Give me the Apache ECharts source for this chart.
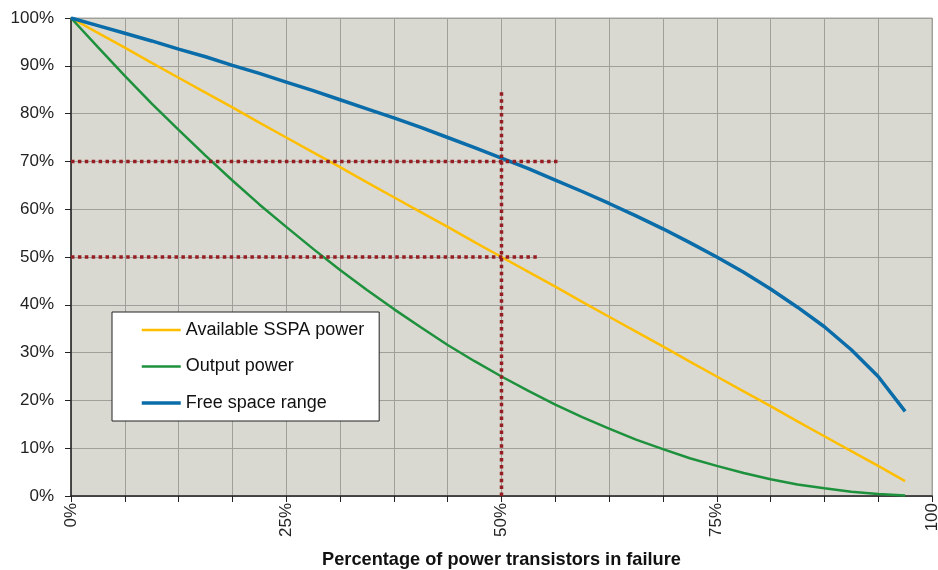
<!DOCTYPE html>
<html>
<head>
<meta charset="utf-8">
<script src="https://cdn.jsdelivr.net/npm/echarts@6/dist/echarts.min.js"></script>
<style>
html,body{margin:0;padding:0;background:#fff;}
#chart{width:938px;height:570px;}
</style>
</head>
<body>
<div id="chart"></div>
<script>
// Percentage of power transistors in failure (x positions)
var failurePct = [0, 3.125, 6.25, 9.375, 12.5, 15.625, 18.75, 21.875, 25, 28.125, 31.25, 34.375, 37.5, 40.625, 43.75, 46.875,
  50, 53.125, 56.25, 59.375, 62.5, 65.625, 68.75, 71.875, 75, 78.125, 81.25, 84.375, 87.5, 90.625, 93.75, 96.875];
var availableSSPA = [100, 96.9, 93.8, 90.6, 87.5, 84.4, 81.3, 78.1, 75.0, 71.9, 68.8, 65.6, 62.5, 59.4, 56.3, 53.1,
  50.0, 46.9, 43.8, 40.6, 37.5, 34.4, 31.3, 28.1, 25.0, 21.9, 18.8, 15.6, 12.5, 9.4, 6.3, 3.1];
var outputPower = [100, 93.9, 87.9, 82.1, 76.6, 71.2, 66.0, 61.0, 56.3, 51.7, 47.3, 43.1, 39.1, 35.3, 31.6, 28.2,
  25.0, 22.0, 19.1, 16.5, 14.1, 11.8, 9.8, 7.9, 6.3, 4.8, 3.5, 2.4, 1.6, 0.9, 0.4, 0.1];
var freeSpaceRange = [100, 98.4, 96.8, 95.2, 93.5, 91.9, 90.1, 88.4, 86.6, 84.8, 82.9, 81.0, 79.1, 77.1, 75.0, 72.9,
  70.7, 68.5, 66.1, 63.7, 61.2, 58.6, 55.9, 53.0, 50.0, 46.8, 43.3, 39.5, 35.4, 30.6, 25.0, 17.7];
// dotted reference lines [x, y]
var ref70 = [[0, 70], [56.5, 70]];
var ref50 = [[0, 50], [54.1, 50]];
var refVert = [[50, 0], [50, 84.6]];
var seriesNames = ['Available SSPA power', 'Output power', 'Free space range'];
var xTickLabels = {0: '0%', 25: '25%', 50: '50%', 75: '75%', 100: '100'};

function pairs(xs, ys) { return xs.map(function (x, i) { return [x, ys[i]]; }); }

var chart = echarts.init(document.getElementById('chart'), null, {renderer: 'canvas'});
var refStyle = {color: '#961E23', width: 3.5, type: [3.5, 3.4], cap: 'butt'};
var FONT = 'Liberation Sans';
var widths = [2.5, 2.5, 3.5];
chart.setOption({
  animation: false,
  backgroundColor: '#ffffff',
  grid: {left: 71, right: 6, top: 18, bottom: 74, outerBoundsMode: 'none', containLabel: false,
    show: true, backgroundColor: '#D9D9D1', borderColor: '#A6A6A0', borderWidth: 1},
  legend: {
    data: seriesNames.map(function (n, i) { return {name: n, lineStyle: {width: widths[i]}}; }),
    orient: 'vertical',
    left: 112, top: 312,
    backgroundColor: '#ffffff',
    borderColor: '#222222', borderWidth: 1,
    padding: [8, 15, 8, 28],
    itemWidth: 39, itemHeight: 14, itemGap: 16.5,
    itemStyle: {opacity: 0},
    textStyle: {fontFamily: FONT, fontSize: 18, color: '#111', lineHeight: 20},
    selectedMode: false
  },
  xAxis: {
    type: 'value', min: 0, max: 100, interval: 6.25,
    name: 'Percentage of power transistors in failure',
    nameLocation: 'middle', nameGap: 55,
    nameTextStyle: {fontFamily: FONT, fontSize: 18.2, fontWeight: 'bold', color: '#111'},
    axisLine: {show: true, lineStyle: {color: '#222', width: 1.5}},
    axisTick: {show: true, length: 6, lineStyle: {color: '#222'}},
    splitLine: {show: true, lineStyle: {color: '#A0A09A', width: 1}},
    axisLabel: {
      rotate: 90, margin: 7, fontFamily: FONT, fontSize: 17, color: '#222',
      showMinLabel: true, showMaxLabel: true, hideOverlap: false,
      formatter: function (v) { var k = Math.round(v * 1000) / 1000; return xTickLabels[k] !== undefined ? xTickLabels[k] : ''; }
    }
  },
  yAxis: {
    type: 'value', min: 0, max: 100, interval: 10,
    axisLine: {show: true, lineStyle: {color: '#222', width: 1.5}},
    axisTick: {show: true, length: 6, lineStyle: {color: '#222'}},
    splitLine: {show: true, lineStyle: {color: '#A0A09A', width: 1}},
    axisLabel: {margin: 17, fontFamily: FONT, fontSize: 17, color: '#222', formatter: '{value}%'}
  },
  series: [
    {name: seriesNames[0], type: 'line', data: pairs(failurePct, availableSSPA), symbol: 'none', color: '#FFBE00', lineStyle: {width: widths[0], color: '#FFBE00'}},
    {name: seriesNames[1], type: 'line', data: pairs(failurePct, outputPower), symbol: 'none', color: '#1E913D', lineStyle: {width: widths[1], color: '#1E913D'}},
    {name: seriesNames[2], type: 'line', data: pairs(failurePct, freeSpaceRange), symbol: 'none', color: '#0A6CA8', lineStyle: {width: widths[2], color: '#0A6CA8'}},
    {name: 'ref70', type: 'line', data: ref70, symbol: 'none', lineStyle: refStyle, silent: true, z: 5},
    {name: 'ref50', type: 'line', data: ref50, symbol: 'none', lineStyle: refStyle, silent: true, z: 5},
    {name: 'refV', type: 'line', data: refVert, symbol: 'none', lineStyle: refStyle, silent: true, z: 5}
  ]
});
</script>
</body>
</html>
